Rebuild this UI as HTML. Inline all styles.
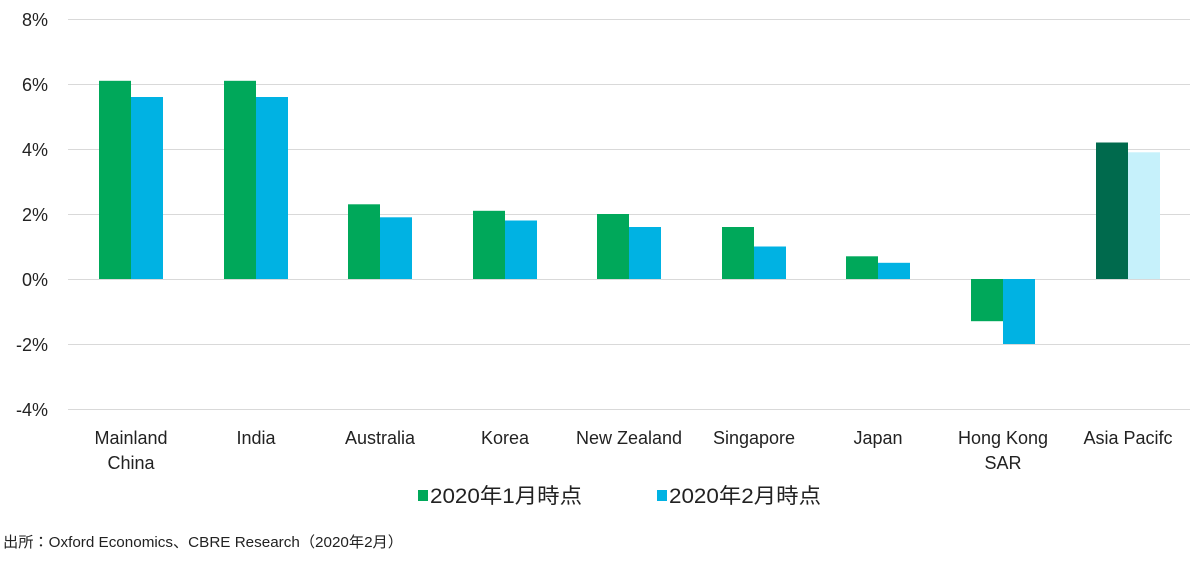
<!DOCTYPE html>
<html><head><meta charset="utf-8"><style>
html,body{margin:0;padding:0;background:#fff;}
svg text{font-family:"Liberation Sans","Noto Sans CJK JP",sans-serif;fill:#222;}
</style></head><body>
<svg width="1200" height="558" xmlns="http://www.w3.org/2000/svg">
<g stroke="#d9d9d9" stroke-width="1">
<line x1="68" x2="1190" y1="19.5" y2="19.5"/>
<line x1="68" x2="1190" y1="84.5" y2="84.5"/>
<line x1="68" x2="1190" y1="149.5" y2="149.5"/>
<line x1="68" x2="1190" y1="214.5" y2="214.5"/>
<line x1="68" x2="1190" y1="279.5" y2="279.5"/>
<line x1="68" x2="1190" y1="344.5" y2="344.5"/>
<line x1="68" x2="1190" y1="409.5" y2="409.5"/>
</g>
<g font-size="18" text-anchor="end">
<text x="48" y="26">8%</text>
<text x="48" y="91">6%</text>
<text x="48" y="156">4%</text>
<text x="48" y="221">2%</text>
<text x="48" y="286">0%</text>
<text x="48" y="351">-2%</text>
<text x="48" y="416">-4%</text>
</g>
<g>
<rect x="99" y="80.8" width="32" height="198.2" fill="#00a85a"/><rect x="131" y="97" width="32" height="182" fill="#00b2e3"/>
<rect x="224" y="80.8" width="32" height="198.2" fill="#00a85a"/><rect x="256" y="97" width="32" height="182" fill="#00b2e3"/>
<rect x="348" y="204.3" width="32" height="74.7" fill="#00a85a"/><rect x="380" y="217.3" width="32" height="61.7" fill="#00b2e3"/>
<rect x="473" y="210.8" width="32" height="68.2" fill="#00a85a"/><rect x="505" y="220.5" width="32" height="58.5" fill="#00b2e3"/>
<rect x="597" y="214" width="32" height="65" fill="#00a85a"/><rect x="629" y="227" width="32" height="52" fill="#00b2e3"/>
<rect x="722" y="227" width="32" height="52" fill="#00a85a"/><rect x="754" y="246.5" width="32" height="32.5" fill="#00b2e3"/>
<rect x="846" y="256.3" width="32" height="22.7" fill="#00a85a"/><rect x="878" y="262.8" width="32" height="16.2" fill="#00b2e3"/>
<rect x="971" y="279" width="32" height="42.2" fill="#00a85a"/><rect x="1003" y="279" width="32" height="65" fill="#00b2e3"/>
<rect x="1096" y="142.5" width="32" height="136.5" fill="#006a4d"/><rect x="1128" y="152.3" width="32" height="126.7" fill="#c6f1fb"/>
</g>
<g font-size="18" text-anchor="middle">
<text x="131" y="444">Mainland</text><text x="131" y="469">China</text>
<text x="256" y="444">India</text>
<text x="380" y="444">Australia</text>
<text x="505" y="444">Korea</text>
<text x="629" y="444">New Zealand</text>
<text x="754" y="444">Singapore</text>
<text x="878" y="444">Japan</text>
<text x="1003" y="444">Hong Kong</text><text x="1003" y="469">SAR</text>
<text x="1128" y="444">Asia Pacifc</text>
</g>
<rect x="418" y="490" width="10" height="11" fill="#00a85a"/>
<text x="430" y="503" font-size="21" textLength="152" lengthAdjust="spacingAndGlyphs">2020年1月時点</text>
<rect x="657" y="490" width="10" height="11" fill="#00b2e3"/>
<text x="669" y="503" font-size="21" textLength="152" lengthAdjust="spacingAndGlyphs">2020年2月時点</text>
<text x="3" y="547" font-size="15" textLength="400" lengthAdjust="spacingAndGlyphs">出所：Oxford Economics、CBRE Research（2020年2月）</text>
</svg>
</body></html>
